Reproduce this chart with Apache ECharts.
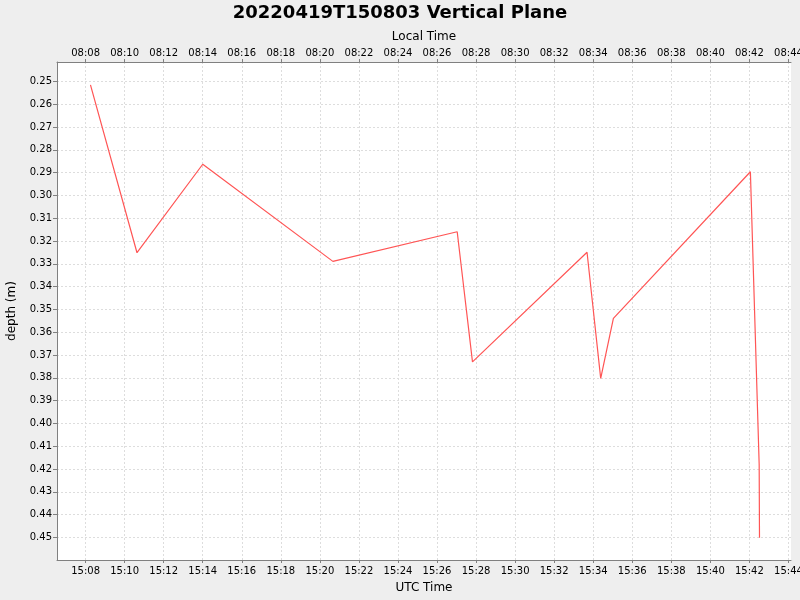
<!DOCTYPE html>
<html>
<head>
<meta charset="utf-8">
<script src="https://cdn.jsdelivr.net/npm/echarts@6/dist/echarts.min.js"></script>
<style>
  html, body { margin: 0; padding: 0; background: #eeeeee; }
  #chart { width: 800px; height: 600px; }
</style>
</head>
<body>
<div id="chart"></div>
<script>
// samples (UTC time of day, depth in m)
var utcTimes = ['15:08:15', '15:10:38', '15:14:00', '15:20:40', '15:27:02', '15:27:49',
                '15:33:41', '15:34:23', '15:35:02', '15:42:03', '15:42:30', '15:42:31'];
var depths = [0.2515, 0.3251, 0.2863, 0.3289, 0.3159, 0.3730,
              0.3249, 0.3802, 0.3539, 0.2896, 0.4180, 0.4501];

// tick labels
var utcTicks = ['15:08', '15:10', '15:12', '15:14', '15:16', '15:18', '15:20', '15:22', '15:24',
                '15:26', '15:28', '15:30', '15:32', '15:34', '15:36', '15:38', '15:40', '15:42', '15:44'];
var depthTicks = [0.25, 0.26, 0.27, 0.28, 0.29, 0.30, 0.31, 0.32, 0.33, 0.34, 0.35,
                  0.36, 0.37, 0.38, 0.39, 0.40, 0.41, 0.42, 0.43, 0.44, 0.45];
var localOffsetMin = -7 * 60;

function toMin(s) {
    var p = s.split(':');
    return (+p[0]) * 60 + (+p[1]) + (p[2] ? (+p[2]) / 60 : 0);
}
function fmt(v) {
    v = Math.round(v);
    v = ((v % 1440) + 1440) % 1440;
    var h = Math.floor(v / 60), m = v % 60;
    return (h < 10 ? '0' : '') + h + ':' + (m < 10 ? '0' : '') + m;
}

var tickMins = utcTicks.map(toMin);
var data = utcTimes.map(function (t, i) { return [toMin(t), depths[i]]; });

var font = 'DejaVu Sans';
var axisColor = '#808080';
var gridLine = { show: true, lineStyle: { color: '#dddddd', type: [2, 2], width: 1 } };

function timeAxis(pos, name, offset) {
    return {
        type: 'value',
        position: pos,
        min: 906.536,
        max: 944.13,
        name: name,
        nameLocation: 'middle',
        nameGap: pos === 'top' ? 17 : 22,
        nameTextStyle: { fontFamily: font, fontSize: 12, color: '#000' },
        axisLine: { show: true, onZero: false, lineStyle: { color: axisColor, width: 1 } },
        axisTick: { show: true, length: 3, customValues: tickMins, lineStyle: { color: axisColor } },
        axisLabel: {
            customValues: tickMins,
            fontFamily: font, fontSize: 10, color: '#000', margin: pos === 'top' ? 4 : 6,
            formatter: function (v) { return fmt(v + offset); }
        },
        splitLine: pos === 'top' ? { show: false } : gridLine
    };
}

var option = {
    backgroundColor: '#eeeeee',
    animation: false,
    title: {
        text: '20220419T150803 Vertical Plane',
        left: 'center',
        top: -1,
        textStyle: { fontFamily: font, fontSize: 18, fontWeight: 'bold', color: '#000' }
    },
    grid: {
        left: 57, right: 9, top: 62, bottom: 40,
        outerBoundsMode: 'none',
        containLabel: false,
        show: true, backgroundColor: '#ffffff', borderWidth: 0
    },
    xAxis: [
        timeAxis('bottom', 'UTC Time', 0),
        timeAxis('top', 'Local Time', localOffsetMin)
    ],
    yAxis: {
        type: 'value',
        inverse: true,
        min: 0.24145,
        max: 0.45987,
        name: 'depth (m)',
        nameLocation: 'middle',
        nameGap: 39,
        nameMoveOverlap: false,
        nameTextStyle: { fontFamily: font, fontSize: 12, color: '#000' },
        axisLine: { show: true, lineStyle: { color: axisColor, width: 1 } },
        axisTick: { show: true, length: 4, customValues: depthTicks, lineStyle: { color: axisColor } },
        axisLabel: {
            customValues: depthTicks,
            fontFamily: font, fontSize: 10, color: '#000', margin: 5,
            formatter: function (v) { return v.toFixed(2); }
        },
        splitLine: gridLine
    },
    series: [{
        type: 'line',
        xAxisIndex: 0,
        data: data,
        showSymbol: false,
        symbol: 'none',
        lineStyle: { color: '#ff5555', width: 1.2 },
        itemStyle: { color: '#ff5555' }
    }]
};

echarts.init(document.getElementById('chart')).setOption(option);
</script>
</body>
</html>
